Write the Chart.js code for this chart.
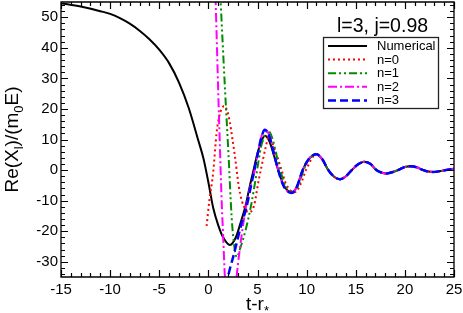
<!DOCTYPE html>
<html>
<head>
<meta charset="utf-8">
<script src="https://cdn.jsdelivr.net/npm/chart.js@4"></script>
<style>
  body { margin: 0; background: #fff; }
  #wrap { width: 463px; height: 313px; }
</style>
</head>
<body>
<div id="wrap"><canvas id="chart"></canvas></div>
<script>
/**
 * Data
 */
const xTicks = [-15, -10, -5, 0, 5, 10, 15, 20, 25];
const yTicks = [-30, -20, -10, 0, 10, 20, 30, 40, 50];

// numerical waveform
const numT = [-15, -13, -11, -10, -9, -8, -7, -6, -5, -4, -3, -2, -1, -0.5, 0, 0.5, 1, 1.5, 2.2, 2.8, 3.3, 3.8, 4.2, 4.6, 5.0, 5.35, 5.75, 6.2, 6.7, 7.1, 7.6, 8.0, 8.47, 9.0, 9.6, 10.2, 11, 11.6, 12.2, 12.8, 13.4, 14.0, 14.6, 15.2, 15.85, 16.5, 17.1, 17.6, 18.13, 18.7, 19.3, 20.0, 20.6, 21.2, 21.86, 22.4, 22.87, 23.5, 24.2, 25];
const numV = [54.6, 53.5, 52, 51.1, 49.7, 47.9, 45.6, 42.8, 39.4, 35, 28.7, 20.3, 9.4, 3.8, -4, -12.5, -18, -22, -24.5, -22, -17, -11.5, -5.5, 0, 5.5, 9, 11.2, 9.5, 4.5, 0, -4.5, -6.5, -7.2, -5.5, 0, 3.5, 5.2, 3.5, 0, -2.2, -3, -2, 0, 1.8, 2.7, 2, 0, -0.8, -1.1, -0.7, 0, 1.0, 1.25, 0.9, 0, -0.5, -0.6, -0.4, 0, 0.45];

// QNM fits (early part; later they lie on the numerical curve)
const n0T = [-0.18, 0.1, 0.49, 0.84, 1.1, 1.35, 1.6, 1.9, 2.19, 2.4, 2.7, 3.08, 3.4, 3.8, 4.15, 4.63, 5.14, 5.4, 5.8, 6.15, 6.8, 7.4, 7.9, 8.4, 8.8, 9.4, 10.0, 11.0];
const n0V = [-18.3, -10, -0.8, 12.3, 17.5, 20, 21, 19.5, 15.6, 11.2, 4.6, -5, -10, -13, -13.8, -11.8, -3, 1, 7, 10.8, 6.2, 0.5, -4.5, -6.8, -7.3, -4.5, 0.5, 5.2];

const n1T = [1.1, 1.25, 1.7, 2.05, 2.36, 2.6, 2.9, 3.2, 3.8, 4.35, 4.96, 5.35, 5.7, 6.05, 6.5, 7.0, 7.4, 7.9, 8.6, 9.1, 9.7];
const n1V = [65, 55, 26, 5, -15, -24, -28.5, -26, -19.5, -11.5, 0, 7.5, 11, 13, 10.5, 4, -1, -5.5, -7.4, -5.5, 0];

const n2T = [0.6, 0.74, 1.0, 1.17, 1.35, 1.51, 1.68, 2.0, 2.3, 2.6, 2.87, 3.4, 3.89, 4.3, 4.72, 5.0, 5.4, 5.8, 6.3, 6.8, 7.2, 7.8, 8.5, 9.0, 9.6];
const n2V = [68, 55, 26, 8, -10, -22, -35, -47, -50, -45, -35, -21, -11, -5, 0, 5, 11, 13.3, 10.5, 4, -1, -6, -7.5, -5.5, 0];

const n3T = [1.85, 2.0, 2.6, 3.38, 3.82, 4.25, 4.68, 5.0, 5.35, 5.75, 6.2, 6.7, 7.15, 7.7, 8.5, 9.0, 9.6];
const n3V = [-38, -35, -27.5, -17.5, -12.9, -6.5, 0, 5, 10.1, 13.2, 11, 5, -0.5, -5.5, -7.5, -5.5, 0];

/**
 * Methods
 */
const toPoints = (ts, vs) => ts.map((t, i) => ({ x: t, y: vs[i] }));

// a fit series continues on the numerical curve after its last own point
const withTail = (ts, vs) => {
  const pts = toPoints(ts, vs);
  const last = ts[ts.length - 1];
  numT.forEach((t, i) => { if (t > last) pts.push({ x: t, y: numV[i] }); });
  return pts;
};

const FONT = "'Liberation Sans', Arial, Helvetica, sans-serif";

// draws text with subscript parts, centred on (0,0) of the current transform
const drawRich = (ctx, parts, size) => {
  const subSize = Math.round(size * 0.68);
  let w = 0;
  parts.forEach(p => {
    ctx.font = (p.sub ? subSize : size) + 'px ' + FONT;
    p.w = ctx.measureText(p.t).width;
    w += p.w;
  });
  let x = -w / 2;
  parts.forEach(p => {
    ctx.font = (p.sub ? subSize : size) + 'px ' + FONT;
    ctx.fillText(p.t, x, p.sub ? size * 0.28 : 0);
    x += p.w;
  });
};

const framePlugin = {
  id: 'frame',
  afterDraw(chart) {
    const ctx = chart.ctx;
    const a = chart.chartArea;
    const xs = chart.scales.x;
    const ys = chart.scales.y;
    ctx.save();
    ctx.setLineDash([]);
    ctx.strokeStyle = '#000000';
    ctx.lineWidth = 1.3;
    ctx.beginPath();
    ctx.moveTo(a.left, a.top);
    ctx.lineTo(a.right, a.top);
    ctx.lineTo(a.right, a.bottom);
    ctx.lineTo(a.left, a.bottom);
    ctx.closePath();
    ctx.stroke();

    // inward ticks on all four sides
    ctx.lineWidth = 1.2;
    ctx.beginPath();
    for (let t = -15; t <= 25; t++) {
      const px = Math.round(xs.getPixelForValue(t)) + 0.5;
      const len = t % 5 === 0 ? 7 : 4;
      ctx.moveTo(px, a.bottom); ctx.lineTo(px, a.bottom - len);
      ctx.moveTo(px, a.top); ctx.lineTo(px, a.top + len);
    }
    for (let v = -34; v <= 54; v += 2) {
      const py = Math.round(ys.getPixelForValue(v)) + 0.5;
      const len = v % 10 === 0 ? 7 : 4;
      ctx.moveTo(a.left, py); ctx.lineTo(a.left + len, py);
      ctx.moveTo(a.right, py); ctx.lineTo(a.right - len, py);
    }
    ctx.stroke();

    // axis titles
    ctx.fillStyle = '#000';
    ctx.textBaseline = 'alphabetic';
    ctx.save();
    ctx.translate(18, (a.top + a.bottom) / 2);
    ctx.rotate(-Math.PI / 2);
    drawRich(ctx, [{ t: 'Re(X' }, { t: 'l', sub: true }, { t: ')/(m' }, { t: '0', sub: true }, { t: 'E)' }], 19);
    ctx.restore();
    ctx.save();
    ctx.translate((a.left + a.right) / 2, 310);
    drawRich(ctx, [{ t: 't-r' }, { t: '*', sub: true }], 19);
    ctx.restore();

    // label in the corner
    ctx.font = '19.5px ' + FONT;
    ctx.textAlign = 'left';
    ctx.fillText('l=3, j=0.98', 337, 31.5);

    // legend box, entries in the original order
    const bx = 323.5, by = 37.5, bw = 115, bh = 71;
    ctx.fillStyle = '#fff';
    ctx.fillRect(bx, by, bw, bh);
    ctx.strokeStyle = '#222';
    ctx.lineWidth = 1.3;
    ctx.strokeRect(bx, by, bw, bh);
    ctx.font = '13px ' + FONT;
    ctx.textBaseline = 'middle';
    chart.data.datasets.slice().reverse().forEach((ds, i) => {
      const ly = 46 + i * 13.6;
      ctx.strokeStyle = ds.borderColor;
      ctx.lineWidth = ds.borderWidth;
      ctx.setLineDash(ds.borderDash || []);
      ctx.beginPath();
      ctx.moveTo(328, ly); ctx.lineTo(367, ly);
      ctx.stroke();
      ctx.setLineDash([]);
      ctx.fillStyle = '#000';
      ctx.fillText(ds.label, 377, ly + 0.5);
    });
    ctx.restore();
  }
};

const createGraphic = () => {
  const ctx = document.getElementById('chart').getContext('2d');
  const common = { pointRadius: 0, fill: false, cubicInterpolationMode: 'monotone' };

  new Chart(ctx, {
    type: 'line',
    data: {
      // drawn last-to-first, so n=3 ends on top as in the picture
      datasets: [
        { ...common, label: 'Numerical', data: toPoints(numT, numV), borderColor: '#000000', borderWidth: 2 },
        { ...common, label: 'n=0', data: withTail(n0T, n0V), borderColor: '#ff0000', borderWidth: 2, borderDash: [2, 3] },
        { ...common, label: 'n=1', data: withTail(n1T, n1V), borderColor: '#008c00', borderWidth: 2, borderDash: [8, 3, 2, 3, 2, 3] },
        { ...common, label: 'n=2', data: withTail(n2T, n2V), borderColor: '#ff00ff', borderWidth: 2, borderDash: [9, 3, 2, 3] },
        { ...common, label: 'n=3', data: withTail(n3T, n3V), borderColor: '#0000ff', borderWidth: 2.5, borderDash: [8, 4] }
      ].reverse()
    },
    options: {
      responsive: true,
      maintainAspectRatio: false,
      animation: false,
      events: [],
      layout: { padding: { left: 0, right: 9, top: 2, bottom: 0 } },
      plugins: { legend: { display: false }, tooltip: { enabled: false } },
      scales: {
        x: {
          type: 'linear', min: -15, max: 25,
          grid: { display: false, drawTicks: false }, border: { display: false },
          afterFit: s => { s.height = 36; s.paddingLeft = 0; s.paddingRight = 0; },
          afterBuildTicks: s => { s.ticks = xTicks.map(v => ({ value: v })); },
          ticks: { color: '#000', font: { family: FONT, size: 15 }, padding: 4, maxRotation: 0 }
        },
        y: {
          type: 'linear', min: -35, max: 55,
          grid: { display: false, drawTicks: false }, border: { display: false },
          afterFit: s => { s.width = 61; s.paddingTop = 0; s.paddingBottom = 0; },
          afterBuildTicks: s => { s.ticks = yTicks.map(v => ({ value: v })); },
          ticks: { color: '#000', font: { family: FONT, size: 15 }, padding: 3 }
        }
      }
    },
    plugins: [framePlugin]
  });
};

/**
 * Events
 */
document.addEventListener('DOMContentLoaded', () => {
  createGraphic();
});
</script>
</body>
</html>
